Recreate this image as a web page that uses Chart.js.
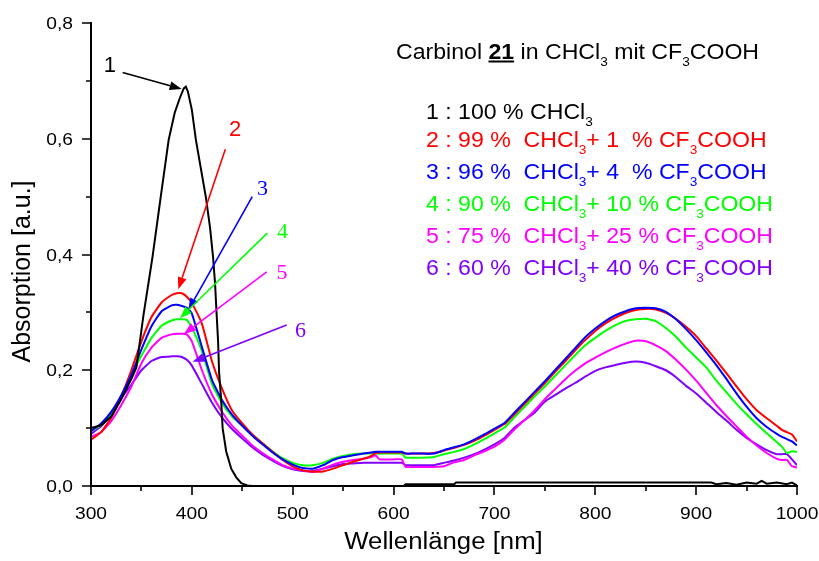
<!DOCTYPE html>
<html>
<head>
<meta charset="utf-8">
<script src="https://cdn.jsdelivr.net/npm/chart.js@4/dist/chart.umd.min.js"></script>
<style>
  html, body { margin: 0; padding: 0; background: #fff; }
  #wrap { width: 819px; height: 561px; }
</style>
</head>
<body>
<div id="wrap"><canvas id="c" width="819" height="561"></canvas></div>
<script>
// Wavelength grid (nm) shared by the acid-titration spectra 2–6
const wavelengths = [
  300, 310, 320, 330, 340, 350, 360, 370, 380, 385,
  390, 395, 400, 410, 420, 430, 440, 450, 460, 470,
  480, 490, 500, 510, 520, 530, 540, 550, 560, 570,
  578, 582, 586, 600, 608, 612, 620, 630, 640, 650,
  660, 670, 680, 690, 700, 710, 720, 730, 740, 750,
  760, 770, 780, 790, 800, 810, 820, 830, 840, 850,
  860, 870, 880, 890, 900, 910, 920, 930, 940, 950,
  960, 970, 980, 985, 990, 995, 1000
];

// 2 : 99 % CHCl3 + 1 % CF3COOH
const absTfa1 = [
  0.080, 0.093, 0.118, 0.155, 0.200, 0.250, 0.292, 0.317, 0.330, 0.333,
  0.333, 0.327, 0.316, 0.280, 0.215, 0.168, 0.130, 0.108, 0.089, 0.074,
  0.059, 0.045, 0.034, 0.027, 0.025, 0.025, 0.030, 0.036, 0.042, 0.047,
  0.052, 0.057, 0.058, 0.058, 0.058, 0.056, 0.056, 0.056, 0.057, 0.061,
  0.066, 0.071, 0.078, 0.087, 0.097, 0.107, 0.124, 0.142, 0.160, 0.178,
  0.197, 0.215, 0.234, 0.252, 0.268, 0.281, 0.291, 0.299, 0.304, 0.306,
  0.305, 0.299, 0.289, 0.275, 0.259, 0.238, 0.217, 0.195, 0.172, 0.150,
  0.131, 0.117, 0.104, 0.097, 0.093, 0.089, 0.077
];

// 3 : 96 % CHCl3 + 4 % CF3COOH
const absTfa4 = [
  0.095, 0.108, 0.128, 0.157, 0.192, 0.236, 0.276, 0.302, 0.312, 0.313,
  0.311, 0.308, 0.298, 0.240, 0.183, 0.148, 0.123, 0.104, 0.087, 0.072,
  0.058, 0.046, 0.037, 0.031, 0.030, 0.036, 0.045, 0.050, 0.053, 0.056,
  0.058, 0.059, 0.059, 0.059, 0.059, 0.056, 0.056, 0.056, 0.056, 0.062,
  0.067, 0.072, 0.080, 0.089, 0.099, 0.109, 0.127, 0.145, 0.163, 0.181,
  0.200, 0.219, 0.238, 0.257, 0.272, 0.285, 0.295, 0.302, 0.307, 0.308,
  0.307, 0.301, 0.288, 0.271, 0.252, 0.231, 0.209, 0.185, 0.160, 0.137,
  0.117, 0.102, 0.090, 0.085, 0.081, 0.077, 0.070
];

// 4 : 90 % CHCl3 + 10 % CF3COOH
const absTfa10 = [
  0.095, 0.105, 0.122, 0.153, 0.192, 0.225, 0.256, 0.277, 0.286, 0.288,
  0.288, 0.287, 0.274, 0.233, 0.176, 0.143, 0.120, 0.104, 0.088, 0.074,
  0.060, 0.048, 0.040, 0.036, 0.036, 0.040, 0.047, 0.052, 0.055, 0.056,
  0.056, 0.056, 0.056, 0.056, 0.056, 0.049, 0.049, 0.049, 0.050, 0.055,
  0.059, 0.064, 0.072, 0.081, 0.091, 0.101, 0.119, 0.137, 0.155, 0.172,
  0.190, 0.208, 0.226, 0.243, 0.256, 0.268, 0.278, 0.285, 0.288, 0.289,
  0.285, 0.273, 0.258, 0.239, 0.222, 0.205, 0.182, 0.162, 0.142, 0.124,
  0.107, 0.091, 0.076, 0.068, 0.057, 0.060, 0.059
];

// 5 : 75 % CHCl3 + 25 % CF3COOH
const absTfa25 = [
  0.085, 0.093, 0.112, 0.140, 0.172, 0.212, 0.239, 0.256, 0.262, 0.263,
  0.263, 0.262, 0.250, 0.200, 0.158, 0.128, 0.104, 0.087, 0.070, 0.057,
  0.046, 0.036, 0.030, 0.027, 0.024, 0.030, 0.037, 0.042, 0.045, 0.047,
  0.050, 0.053, 0.046, 0.046, 0.046, 0.033, 0.033, 0.033, 0.033, 0.034,
  0.041, 0.045, 0.053, 0.060, 0.068, 0.080, 0.098, 0.114, 0.131, 0.150,
  0.167, 0.184, 0.199, 0.212, 0.222, 0.231, 0.239, 0.246, 0.251, 0.250,
  0.243, 0.233, 0.218, 0.201, 0.182, 0.161, 0.140, 0.121, 0.103, 0.085,
  0.070, 0.057, 0.047, 0.045, 0.045, 0.034, 0.032
];

// 6 : 60 % CHCl3 + 40 % CF3COOH
const absTfa40 = [
  0.090, 0.103, 0.125, 0.152, 0.175, 0.200, 0.216, 0.223, 0.224, 0.224,
  0.223, 0.218, 0.208, 0.176, 0.144, 0.118, 0.098, 0.082, 0.067, 0.054,
  0.044, 0.035, 0.029, 0.026, 0.026, 0.030, 0.034, 0.038, 0.039, 0.040,
  0.040, 0.040, 0.040, 0.040, 0.040, 0.036, 0.036, 0.036, 0.036, 0.040,
  0.044, 0.049, 0.055, 0.063, 0.072, 0.083, 0.101, 0.114, 0.127, 0.146,
  0.157, 0.168, 0.178, 0.189, 0.199, 0.205, 0.209, 0.213, 0.215, 0.213,
  0.207, 0.200, 0.188, 0.173, 0.160, 0.144, 0.128, 0.113, 0.097, 0.083,
  0.072, 0.062, 0.055, 0.055, 0.055, 0.046, 0.036
];

// 1 : pure CHCl3 (own wavelength sampling, sharp band at ~394 nm)
const pureNm = [
  300, 310, 320, 330, 340, 345, 352, 361, 369, 377,
  383, 388, 392, 394, 396, 400, 404, 409, 414, 418,
  421, 423, 424.5, 426, 427, 429, 430.5, 434, 439, 444,
  449, 455, 460, 610, 612, 660, 662, 915, 920, 930,
  940, 950, 960, 965, 970, 980, 990, 995, 1000
];
const pureAbs = [
  0.100, 0.105, 0.120, 0.150, 0.185, 0.205, 0.295, 0.396, 0.498, 0.598,
  0.645, 0.670, 0.687, 0.690, 0.682, 0.650, 0.598, 0.548, 0.498, 0.447,
  0.396, 0.350, 0.299, 0.250, 0.197, 0.150, 0.100, 0.060, 0.030, 0.015,
  0.005, 0.001, 0.000, 0.000, 0.003, 0.003, 0.006, 0.006, 0.003, 0.005,
  0.002, 0.006, 0.004, 0.009, 0.004, 0.006, 0.003, 0.006, 0.001
];

// Axis ticks
const xTicks = [300, 400, 500, 600, 700, 800, 900, 1000];
const yTicks = [0.0, 0.2, 0.4, 0.6, 0.8];

// Legend composition
const chcl3Pct = [100, 99, 96, 90, 75, 60];
const tfaPct = [0, 1, 4, 10, 25, 40];
const seriesColors = ['#000000', '#ff0000', '#0000ff', '#00ff00', '#ff00ff', '#8000ff'];

// Numbered callouts: label centre, arrow tail and arrow tip in data units
const calloutLabel = [[318.8, 0.726], [442.8, 0.615], [470, 0.5125], [489.9, 0.438], [489.4, 0.368], [507.8, 0.268]];
const calloutTail = [[331.4, 0.7145], [433.2, 0.582], [459.9, 0.500], [474.8, 0.437], [474.2, 0.370], [494, 0.278]];
const calloutTip = [[389.9, 0.686], [386.6, 0.340], [396.5, 0.304], [388.2, 0.290], [392.2, 0.2625], [400.8, 0.2145]];

const SANS = '"Liberation Sans", Arial, Helvetica, sans-serif';
const SERIF = '"Liberation Serif", "Times New Roman", serif';

function pts(xs, ys) { return xs.map((x, i) => ({ x: x, y: ys[i] })); }

// Stretched single-run text
function drawText(ctx, s, x, y, font, color, align, sx) {
  ctx.save();
  ctx.font = font;
  ctx.fillStyle = color;
  ctx.textAlign = align || 'left';
  ctx.textBaseline = 'alphabetic';
  ctx.translate(x, y);
  ctx.scale(sx || 1, 1);
  ctx.fillText(s, 0, 0);
  ctx.restore();
}

// Mixed runs: plain, bold+underline, subscript
function drawRich(ctx, runs, x, y, size, color, sx) {
  let cx = x;
  runs.forEach(r => {
    const fs = r.sub ? Math.round(size * 0.6) : size;
    const font = (r.bold ? 'bold ' : '') + fs + 'px ' + SANS;
    ctx.save();
    ctx.font = font;
    const w = ctx.measureText(r.t).width * sx;
    const yy = r.sub ? y + size * 0.33 : y;
    ctx.fillStyle = color;
    ctx.textBaseline = 'alphabetic';
    ctx.translate(cx, yy);
    ctx.scale(sx, 1);
    ctx.fillText(r.t, 0, 0);
    ctx.restore();
    if (r.underline) {
      ctx.save();
      ctx.fillStyle = color;
      ctx.fillRect(cx, y + 2, w, 2);
      ctx.restore();
    }
    cx += w;
  });
}

function legendRuns(i) {
  if (i === 0) {
    return [{ t: '1 : ' + chcl3Pct[0] + ' % CHCl' }, { t: '3', sub: true }];
  }
  const tfa = String(tfaPct[i]).padEnd(2, ' ');
  return [
    { t: (i + 1) + ' : ' + chcl3Pct[i] + ' %  CHCl' }, { t: '3', sub: true },
    { t: '+ ' + tfa + ' % CF' }, { t: '3', sub: true }, { t: 'COOH' }
  ];
}

const decor = {
  id: 'decor',
  afterDraw(chart) {
    const ctx = chart.ctx;
    const xs = chart.scales.x, ys = chart.scales.y;
    const area = chart.chartArea;

    // axis lines and tick marks (major outward 9 px, minor 5 px)
    ctx.save();
    ctx.strokeStyle = '#000';
    ctx.lineWidth = 2;
    ctx.beginPath();
    ctx.moveTo(area.left, area.top - 1);
    ctx.lineTo(area.left, area.bottom);
    ctx.lineTo(area.right + 1, area.bottom);
    ctx.stroke();
    ctx.lineWidth = 1.6;
    ctx.beginPath();
    for (let v = 300; v <= 1000; v += 50) {
      const px = Math.round(xs.getPixelForValue(v));
      const len = (v % 100 === 0) ? 9 : 5;
      ctx.moveTo(px, area.bottom);
      ctx.lineTo(px, area.bottom + len);
    }
    for (let k = 0; k <= 8; k++) {
      const py = Math.round(ys.getPixelForValue(k / 10));
      const len = (k % 2 === 0) ? 9 : 5;
      ctx.moveTo(area.left, py);
      ctx.lineTo(area.left - len, py);
    }
    ctx.stroke();
    ctx.restore();

    // tick labels
    xTicks.forEach(v => {
      drawText(ctx, String(v), xs.getPixelForValue(v), 518.5, '17px ' + SANS, '#000', 'center', 1.13);
    });
    yTicks.forEach(v => {
      drawText(ctx, v.toFixed(1).replace('.', ','), 73, ys.getPixelForValue(v) + 6.2, '17px ' + SANS, '#000', 'right', 1.13);
    });

    // axis titles
    drawText(ctx, 'Wellenlänge [nm]', (area.left + area.right) / 2 - 0.5, 549, '23px ' + SANS, '#000', 'center', 1.12);
    ctx.save();
    ctx.translate(30, 271.5);
    ctx.rotate(-Math.PI / 2);
    ctx.font = '25px ' + SANS;
    ctx.fillStyle = '#000';
    ctx.textAlign = 'center';
    ctx.textBaseline = 'alphabetic';
    ctx.fillText('Absorption [a.u.]', 0, 0);
    ctx.restore();

    // heading
    drawRich(ctx, [
      { t: 'Carbinol ' }, { t: '21', bold: true, underline: true }, { t: ' in CHCl' }, { t: '3', sub: true },
      { t: ' mit CF' }, { t: '3', sub: true }, { t: 'COOH' }
    ], 396, 58.5, 22, '#000', 1.05);

    // composition legend
    const rowBase = [119, 147, 178.5, 211, 242.5, 274.5];
    for (let i = 0; i < 6; i++) {
      drawRich(ctx, legendRuns(i), 426, rowBase[i], 22, seriesColors[i], 1.05);
    }

    // numbered arrows
    for (let i = 0; i < 6; i++) {
      const x0 = xs.getPixelForValue(calloutTail[i][0]), y0 = ys.getPixelForValue(calloutTail[i][1]);
      const x1 = xs.getPixelForValue(calloutTip[i][0]), y1 = ys.getPixelForValue(calloutTip[i][1]);
      const ang = Math.atan2(y1 - y0, x1 - x0);
      const hl = 12, hw = 4.5;
      const bx = x1 - hl * Math.cos(ang), by = y1 - hl * Math.sin(ang);
      ctx.save();
      ctx.strokeStyle = seriesColors[i];
      ctx.fillStyle = seriesColors[i];
      ctx.lineWidth = 1.6;
      ctx.beginPath();
      ctx.moveTo(x0, y0);
      ctx.lineTo(bx, by);
      ctx.stroke();
      ctx.beginPath();
      ctx.moveTo(x1, y1);
      ctx.lineTo(bx + hw * Math.sin(ang), by - hw * Math.cos(ang));
      ctx.lineTo(bx - hw * Math.sin(ang), by + hw * Math.cos(ang));
      ctx.closePath();
      ctx.fill();
      ctx.restore();

      const lx = xs.getPixelForValue(calloutLabel[i][0]), ly = ys.getPixelForValue(calloutLabel[i][1]);
      const fam = i < 2 ? SANS : SERIF;
      ctx.save();
      ctx.font = '22px ' + fam;
      ctx.fillStyle = seriesColors[i];
      ctx.textAlign = 'center';
      ctx.textBaseline = 'middle';
      ctx.fillText(String(i + 1), lx, ly);
      ctx.restore();
    }
  }
};

const ySeries = [absTfa1, absTfa4, absTfa10, absTfa25, absTfa40];
const labels = ['2', '3', '4', '5', '6'];
// draw order: dataset 0 ends up on top
const order = [0, 2, 1, 3, 4, 5];
const datasets = [
  { label: '1', data: pts(pureNm, pureAbs), borderColor: seriesColors[0], tension: 0 }
];
[1, 0, 2, 3, 4].forEach(k => {
  datasets.push({ label: labels[k], data: pts(wavelengths, ySeries[k]), borderColor: seriesColors[k + 1], tension: 0.15 });
});

new Chart(document.getElementById('c').getContext('2d'), {
  type: 'line',
  data: { datasets: datasets },
  options: {
    responsive: false,
    animation: false,
    devicePixelRatio: 1,
    layout: { padding: { top: 23, right: 22, left: 0, bottom: 0 } },
    elements: { point: { radius: 0 }, line: { borderWidth: 2, fill: false } },
    plugins: { legend: { display: false }, tooltip: { enabled: false }, title: { display: false } },
    scales: {
      x: {
        type: 'linear', min: 300, max: 1000,
        ticks: { stepSize: 100, display: false },
        grid: { display: false },
        border: { display: false },
        afterFit(s) { s.height = 75; }
      },
      y: {
        type: 'linear', min: 0, max: 0.8,
        ticks: { stepSize: 0.2, display: false },
        grid: { display: false },
        border: { display: false },
        afterFit(s) { s.width = 91; }
      }
    }
  },
  plugins: [decor]
});
</script>
</body>
</html>
